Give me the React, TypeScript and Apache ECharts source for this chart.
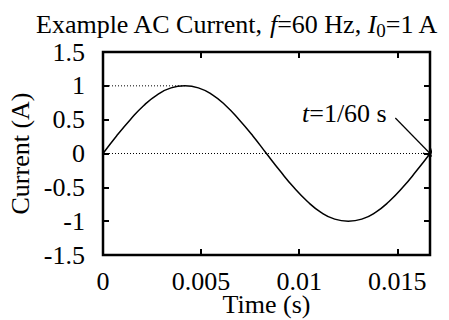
import React, { useEffect, useRef } from "react";
import * as echarts from "echarts";

const times = [0, 0.00069, 0.00139, 0.00208, 0.00278, 0.00347, 0.00417, 0.00486, 0.00556, 0.00625, 0.00694, 0.00764, 0.00833, 0.00903, 0.00972, 0.01042, 0.01111, 0.01181, 0.0125, 0.01319, 0.01389, 0.01458, 0.01528, 0.01597, 0.01667];
const current = [0, 0.26, 0.5, 0.71, 0.87, 0.97, 1, 0.97, 0.87, 0.71, 0.5, 0.26, 0, -0.26, -0.5, -0.71, -0.87, -0.97, -1, -0.97, -0.87, -0.71, -0.5, -0.26, 0];
const peakGuideX = [0, 0.00417];
const peakGuideY = [1, 1];
const zeroGuideX = [0, 0.01667];
const zeroGuideY = [0, 0];
const xTicks = [0, 0.005, 0.01, 0.015];
const yTicks = [-1.5, -1, -0.5, 0, 0.5, 1, 1.5];
const arrowFrom = [0.0149, 0.525];
const arrowTo = [0.01667, 0];

const FONT = "Liberation Serif";
const FS = 26;
const CHEVRON = "path://M5,0 L10,10 L8.8,10.6 L5,2.6 L1.2,10.6 L0,10 Z";

export default function App() {
  const ref = useRef<HTMLDivElement>(null);
  useEffect(() => {
    const chart = echarts.init(ref.current!, null, { renderer: "svg" });
    const tickStyle = { inside: true, length: 6, lineStyle: { color: "#000", width: 2 } };
    const hiddenLine = { show: false, onZero: false };
    const option = {
      animation: false,
      backgroundColor: "#fff",
      grid: {
        left: 103, right: 19, top: 52, bottom: 65, show: true, borderColor: "#000", borderWidth: 2.5,
        backgroundColor: "transparent", containLabel: false, outerBoundsMode: "none",
      },
      title: {
        text: "Example AC Current, {i|f}=60 Hz, {i|I}{sub|0}=1 A",
        left: 31,
        top: 4,
        textStyle: {
          fontFamily: FONT, fontSize: 26, fontWeight: "normal", color: "#000",
          rich: {
            i: { fontFamily: FONT, fontSize: 26, fontStyle: "italic", color: "#000" },
            sub: { fontFamily: FONT, fontSize: 19, color: "#000", padding: [12, 0, 0, 0] },
          },
        },
      },
      xAxis: [
        {
          type: "value", min: 0, max: 1 / 60, interval: 0.005,
          name: "Time (s)", nameLocation: "middle", nameGap: 39, nameMoveOverlap: false,
          nameTextStyle: { fontFamily: FONT, fontSize: FS, lineHeight: 20, color: "#000", verticalAlign: "top" },
          axisLine: hiddenLine, axisTick: tickStyle, splitLine: { show: false },
          axisLabel: {
            fontFamily: FONT, fontSize: FS, lineHeight: 18, color: "#000", margin: 17, showMaxLabel: false,
            formatter: (v: number) => {
              const t = xTicks.find((x) => Math.abs(x - v) < 1e-9);
              return t === undefined ? "" : String(t);
            },
          },
        },
        {
          type: "value", min: 0, max: 1 / 60, interval: 0.005, position: "top",
          axisLine: hiddenLine, axisTick: tickStyle, splitLine: { show: false }, axisLabel: { show: false },
        },
      ],
      yAxis: [
        {
          type: "value", min: -1.5, max: 1.5, interval: 0.5,
          name: "Current (A)", nameLocation: "middle", nameGap: 70, nameMoveOverlap: false,
          nameTextStyle: { fontFamily: FONT, fontSize: FS, color: "#000" },
          axisLine: hiddenLine, axisTick: tickStyle, splitLine: { show: false },
          axisLabel: {
            fontFamily: FONT, fontSize: FS, color: "#000", margin: 18,
            formatter: (v: number) => String(yTicks.find((t) => Math.abs(t - v) < 1e-9) ?? v),
          },
        },
        {
          type: "value", min: -1.5, max: 1.5, interval: 0.5, position: "right",
          axisLine: hiddenLine, axisTick: tickStyle, splitLine: { show: false }, axisLabel: { show: false },
        },
      ],
      series: [
        {
          type: "line", data: zeroGuideX.map((x, i) => [x, zeroGuideY[i]]), symbol: "none",
          lineStyle: { color: "#000", width: 1, type: [1, 2] }, silent: true,
        },
        {
          type: "line", data: peakGuideX.map((x, i) => [x, peakGuideY[i]]), symbol: "none",
          lineStyle: { color: "#000", width: 1, type: [1, 2] }, silent: true,
        },
        {
          type: "line", data: times.map((t, i) => [t, current[i]]), symbol: "none", smooth: true,
          lineStyle: { color: "#000", width: 1.5 }, silent: true,
        },
        {
          type: "lines", coordinateSystem: "cartesian2d", silent: true,
          symbol: ["none", CHEVRON], symbolSize: [11, 11],
          itemStyle: { color: "#000" },
          lineStyle: { color: "#000", width: 1.2, opacity: 1 },
          data: [{ coords: [arrowFrom, arrowTo] }],
        },
      ],
      graphic: [
        {
          type: "text", left: 302, top: 100,
          style: {
            text: "{i|t}=1/60 s", fontFamily: FONT, fontSize: FS, fill: "#000",
            rich: { i: { fontFamily: FONT, fontSize: FS, fontStyle: "italic", fill: "#000" } },
          },
        },
      ],
    };
    chart.setOption(option as any);
    return () => chart.dispose();
  }, []);
  return <div ref={ref} style={{ width: 449, height: 320, position: "absolute", left: 0, top: 0 }} />;
}
